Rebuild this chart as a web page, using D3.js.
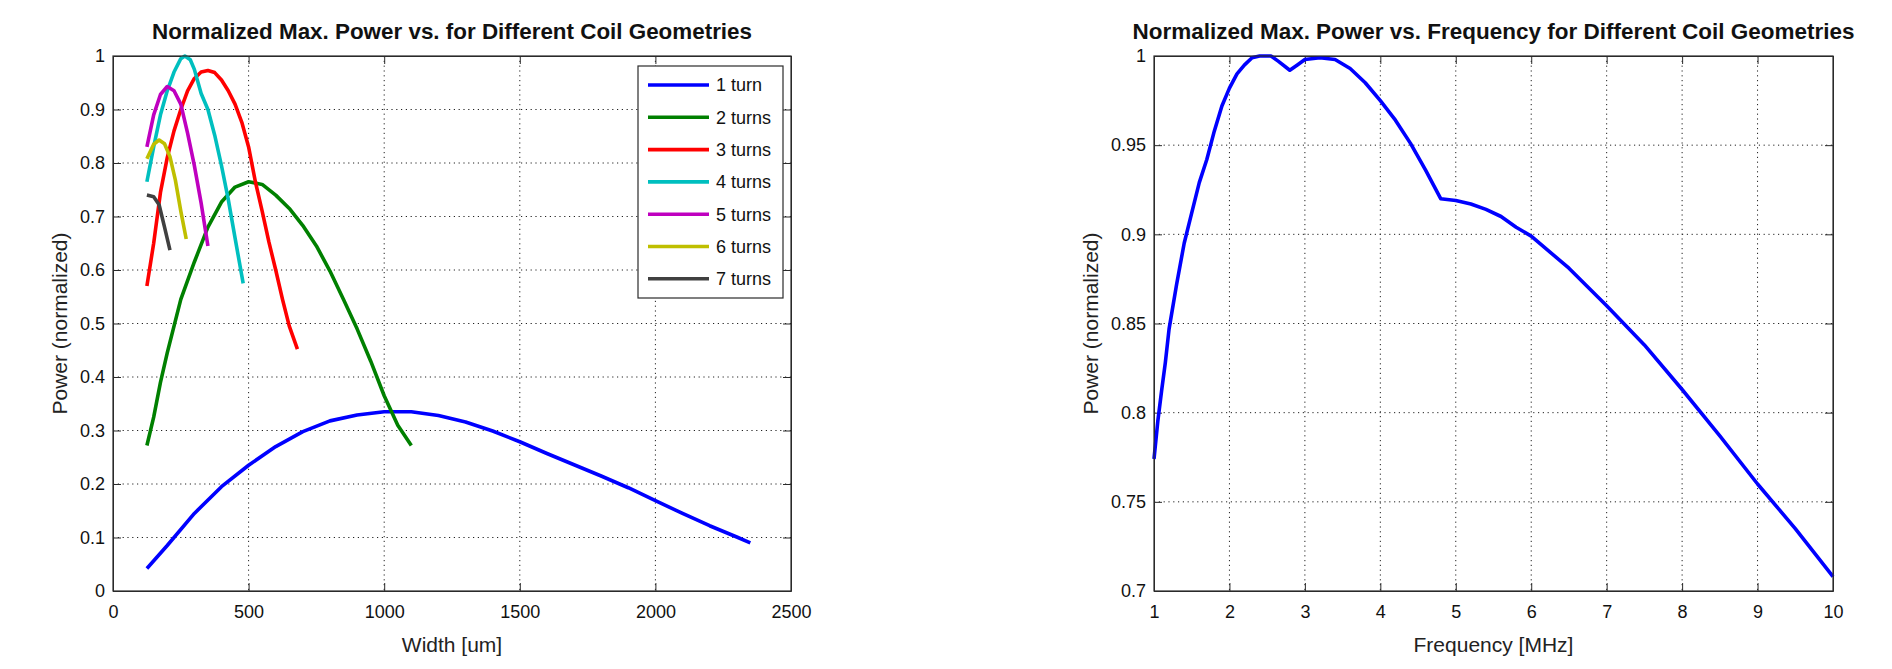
<!DOCTYPE html>
<html>
<head>
<meta charset="utf-8">
<script src="https://cdn.jsdelivr.net/npm/d3@7"></script>
<style>
  body { margin: 0; background: #fff; }
  svg { display: block; font-family: "Liberation Sans", Arial, sans-serif; }
  .grid line { stroke: #222; stroke-width: 1; stroke-dasharray: 1.2 3.6; }
  .axis path, .axis line { stroke: #2b2b2b; }
  .axis text { font-size: 18px; fill: #111; }
</style>
</head>
<body>
<div id="chart"></div>
<script>
  // ---- left panel: power vs coil width, one curve per turn count ----
  const widthTicks = [0, 500, 1000, 1500, 2000, 2500];
  const powerTicks = [0, 0.1, 0.2, 0.3, 0.4, 0.5, 0.6, 0.7, 0.8, 0.9, 1];

  const turnNames = ["1 turn", "2 turns", "3 turns", "4 turns", "5 turns", "6 turns", "7 turns"];
  const turnColors = ["#0000ff", "#008000", "#ff0000", "#00bfbf", "#bf00bf", "#bfbf00", "#404040"];

  const turn1W = [125, 200, 300, 400, 500, 600, 700, 800, 900, 1000, 1100, 1200, 1300, 1400, 1500, 1600, 1700, 1800, 1900, 2000, 2100, 2200, 2300, 2350];
  const turn1P = [0.042, 0.085, 0.145, 0.195, 0.235, 0.27, 0.298, 0.318, 0.329, 0.335, 0.335, 0.328, 0.316, 0.299, 0.279, 0.257, 0.236, 0.215, 0.193, 0.169, 0.145, 0.122, 0.101, 0.090];

  const turn2W = [125, 150, 175, 200, 250, 300, 350, 400, 450, 500, 550, 600, 650, 700, 750, 800, 850, 900, 950, 1000, 1050, 1100];
  const turn2P = [0.272, 0.325, 0.39, 0.445, 0.545, 0.615, 0.68, 0.727, 0.755, 0.765, 0.76, 0.74, 0.715, 0.683, 0.645, 0.598, 0.545, 0.49, 0.43, 0.365, 0.31, 0.272];

  const turn3W = [125, 150, 175, 200, 225, 250, 275, 300, 325, 350, 375, 400, 425, 450, 475, 500, 525, 550, 575, 600, 625, 650, 680];
  const turn3P = [0.57, 0.65, 0.745, 0.81, 0.86, 0.90, 0.935, 0.958, 0.970, 0.973, 0.969, 0.955, 0.935, 0.91, 0.876, 0.83, 0.765, 0.71, 0.652, 0.6, 0.545, 0.495, 0.452];

  const turn4W = [125, 150, 175, 200, 225, 250, 265, 285, 300, 325, 350, 375, 400, 425, 450, 480];
  const turn4P = [0.765, 0.83, 0.89, 0.935, 0.97, 0.995, 1.0, 0.993, 0.975, 0.93, 0.9, 0.852, 0.795, 0.732, 0.66, 0.575];

  const turn5W = [125, 150, 175, 200, 225, 250, 275, 300, 325, 350];
  const turn5P = [0.83, 0.89, 0.928, 0.943, 0.935, 0.91, 0.856, 0.795, 0.725, 0.645];

  const turn6W = [125, 150, 170, 190, 210, 230, 250, 270];
  const turn6P = [0.808, 0.835, 0.843, 0.836, 0.812, 0.768, 0.71, 0.658];

  const turn7W = [125, 150, 170, 190, 210];
  const turn7P = [0.74, 0.737, 0.722, 0.68, 0.637];

  const turnWidths = [turn1W, turn2W, turn3W, turn4W, turn5W, turn6W, turn7W];
  const turnPowers = [turn1P, turn2P, turn3P, turn4P, turn5P, turn6P, turn7P];

  // ---- right panel: power vs frequency ----
  const freqTicks = [1, 2, 3, 4, 5, 6, 7, 8, 9, 10];
  const freqPowerTicks = [0.7, 0.75, 0.8, 0.85, 0.9, 0.95, 1];

  const freqMHz = [1.0, 1.05, 1.1, 1.15, 1.2, 1.3, 1.4, 1.5, 1.6, 1.7, 1.8, 1.9, 2.0, 2.1, 2.2, 2.3, 2.4, 2.55, 2.65, 2.8, 2.9, 3.0, 3.2, 3.4, 3.6, 3.8, 4.0, 4.2, 4.4, 4.6, 4.8, 5.0, 5.2, 5.4, 5.6, 5.8, 6.0, 6.5, 7.0, 7.5, 8.0, 8.5, 9.0, 9.5, 10.0];
  const freqPower = [0.774, 0.795, 0.812, 0.828, 0.847, 0.872, 0.895, 0.912, 0.929, 0.942, 0.958, 0.972, 0.982, 0.990, 0.995, 0.999, 1.0, 1.0, 0.997, 0.992, 0.995, 0.998, 0.999, 0.998, 0.993, 0.985, 0.975, 0.964, 0.951, 0.936, 0.920, 0.919, 0.917, 0.914, 0.910, 0.904, 0.899, 0.881, 0.860, 0.838, 0.813, 0.787, 0.760, 0.735, 0.708];

  const W = 1892, H = 669;
  const svg = d3.select("#chart").append("svg")
    .attr("width", W)
    .attr("height", H);

  svg.append("rect").attr("width", W).attr("height", H).attr("fill", "#fff");

  const zip = (xs, ys) => xs.map((x, i) => ({ x: x, y: ys[i] }));

  /**
   * draws one MATLAB-style panel (box, inward ticks, dotted grid, lines)
   */
  const drawPanel = (cfg) => {
    const x = d3.scaleLinear().domain(cfg.xDomain).range([cfg.left, cfg.right]);
    const y = d3.scaleLinear().domain(cfg.yDomain).range([cfg.bottom, cfg.top]);
    const g = svg.append("g");

    const clipId = `clip-${cfg.id}`;
    g.append("clipPath").attr("id", clipId)
      .append("rect")
      .attr("x", cfg.left - 2).attr("y", cfg.top - 2)
      .attr("width", cfg.right - cfg.left + 4)
      .attr("height", cfg.bottom - cfg.top + 4);

    // grid
    const grid = g.append("g").attr("class", "grid");
    grid.selectAll(".gx")
      .data(cfg.xTicks.filter((d) => d !== cfg.xDomain[0] && d !== cfg.xDomain[1]))
      .enter().append("line")
      .attr("x1", (d) => x(d)).attr("x2", (d) => x(d))
      .attr("y1", cfg.top).attr("y2", cfg.bottom);
    grid.selectAll(".gy")
      .data(cfg.yTicks.filter((d) => d !== cfg.yDomain[0] && d !== cfg.yDomain[1]))
      .enter().append("line")
      .attr("y1", (d) => y(d)).attr("y2", (d) => y(d))
      .attr("x1", cfg.left).attr("x2", cfg.right);

    // axes, ticks pointing inwards like matlab
    const fmt = d3.format("");
    g.append("g").attr("class", "axis")
      .attr("transform", `translate(0,${cfg.bottom})`)
      .call(d3.axisBottom(x).tickValues(cfg.xTicks).tickFormat(fmt)
        .tickSizeInner(-8).tickSizeOuter(0).tickPadding(14));
    g.append("g").attr("class", "axis")
      .attr("transform", `translate(${cfg.left},0)`)
      .call(d3.axisLeft(y).tickValues(cfg.yTicks).tickFormat(fmt)
        .tickSizeInner(-8).tickSizeOuter(0).tickPadding(8));
    g.append("g").attr("class", "axis")
      .attr("transform", `translate(0,${cfg.top})`)
      .call(d3.axisTop(x).tickValues(cfg.xTicks).tickFormat("")
        .tickSizeInner(-8).tickSizeOuter(0));
    g.append("g").attr("class", "axis")
      .attr("transform", `translate(${cfg.right},0)`)
      .call(d3.axisRight(y).tickValues(cfg.yTicks).tickFormat("")
        .tickSizeInner(-8).tickSizeOuter(0));

    // data lines
    const line = d3.line().x((d) => x(d.x)).y((d) => y(d.y));
    g.append("g").attr("clip-path", `url(#${clipId})`)
      .selectAll("path.series")
      .data(cfg.series)
      .enter().append("path")
      .attr("class", "series")
      .attr("fill", "none")
      .attr("stroke", (d) => d.color)
      .attr("stroke-width", 3.6)
      .attr("stroke-linejoin", "round")
      .attr("d", (d) => line(d.points));

    // title + labels
    g.append("text")
      .attr("x", (cfg.left + cfg.right) / 2)
      .attr("y", 39)
      .attr("text-anchor", "middle")
      .attr("font-size", 22)
      .attr("font-weight", "bold")
      .attr("fill", "#111")
      .attr("textLength", cfg.titleWidth)
      .attr("lengthAdjust", "spacingAndGlyphs")
      .text(cfg.title);

    g.append("text")
      .attr("x", (cfg.left + cfg.right) / 2)
      .attr("y", 652)
      .attr("text-anchor", "middle")
      .attr("font-size", 21)
      .attr("fill", "#222")
      .text(cfg.xLabel);

    g.append("text")
      .attr("transform", `translate(${cfg.yLabelX},${(cfg.top + cfg.bottom) / 2}) rotate(-90)`)
      .attr("text-anchor", "middle")
      .attr("dominant-baseline", "central")
      .attr("font-size", 21)
      .attr("fill", "#222")
      .text(cfg.yLabel);

    // box outline
    g.append("rect")
      .attr("x", cfg.left).attr("y", cfg.top)
      .attr("width", cfg.right - cfg.left)
      .attr("height", cfg.bottom - cfg.top)
      .attr("fill", "none")
      .attr("stroke", "#2b2b2b")
      .attr("stroke-width", 1.2);

    return { g: g, x: x, y: y };
  };

  const left = drawPanel({
    id: "width",
    left: 113, right: 791, top: 56, bottom: 591,
    xDomain: [0, 2500], yDomain: [0, 1],
    xTicks: widthTicks, yTicks: powerTicks,
    title: "Normalized Max. Power vs. for Different Coil Geometries",
    titleWidth: 600,
    xLabel: "Width [um]",
    yLabel: "Power (normalized)",
    yLabelX: 59,
    series: turnNames.map((name, i) => ({
      name: name,
      color: turnColors[i],
      points: zip(turnWidths[i], turnPowers[i])
    }))
  });

  drawPanel({
    id: "freq",
    left: 1154, right: 1833, top: 56, bottom: 591,
    xDomain: [1, 10], yDomain: [0.7, 1],
    xTicks: freqTicks, yTicks: freqPowerTicks,
    title: "Normalized Max. Power vs. Frequency for Different Coil Geometries",
    titleWidth: 722,
    xLabel: "Frequency [MHz]",
    yLabel: "Power (normalized)",
    yLabelX: 1090,
    series: [{ name: "power", color: "#0000ff", points: zip(freqMHz, freqPower) }]
  });

  // legend box in the left panel
  const legend = left.g.append("g").attr("transform", "translate(638,66)");
  legend.append("rect")
    .attr("width", 145).attr("height", 232)
    .attr("fill", "#fff")
    .attr("stroke", "#2b2b2b")
    .attr("stroke-width", 1.2);
  const rows = legend.selectAll(".row")
    .data(turnNames)
    .enter().append("g")
    .attr("transform", (d, i) => `translate(0,${19 + i * 32.3})`);
  rows.append("line")
    .attr("x1", 10).attr("x2", 71)
    .attr("stroke", (d, i) => turnColors[i])
    .attr("stroke-width", 3.6);
  rows.append("text")
    .attr("x", 78)
    .attr("dy", "0.35em")
    .attr("font-size", 18)
    .attr("fill", "#111")
    .text((d) => d);
</script>
</body>
</html>
